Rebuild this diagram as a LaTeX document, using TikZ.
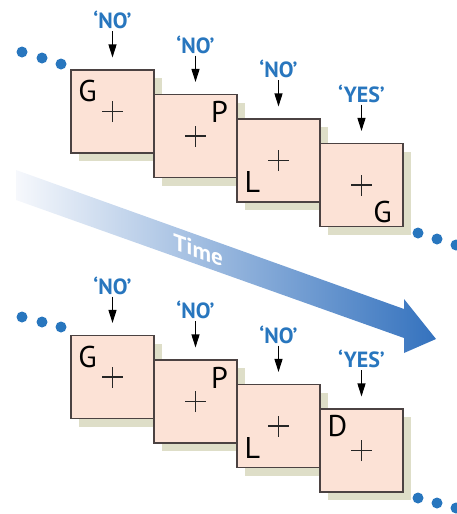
\documentclass[tikz,border=0pt]{standalone}
\usepackage{fontspec}
\setmainfont{PT Sans}
\usetikzlibrary{arrows.meta,shadows}
\definecolor{boxpink}{RGB}{252,226,214}
\definecolor{boxedge}{RGB}{75,66,66}
\definecolor{oliveshadow}{RGB}{222,222,200}
\definecolor{askblue}{RGB}{40,118,190}
\definecolor{timeblue}{RGB}{52,114,190}
\definecolor{timepale}{RGB}{246,248,252}
% cross in the middle of a cell
\newcommand{\crossin}[1]{\draw[crossline] ([xshift=-10.5pt]#1.center) -- ([xshift=10.5pt]#1.center)
    ([yshift=-10.5pt]#1.center) -- ([yshift=10.5pt]#1.center);}

\begin{document}
\begin{tikzpicture}[x=1pt,y=-1pt,
        cell/.style={draw=boxedge, line width=1.1pt, fill=boxpink, minimum size=83pt, inner sep=0pt,
            drop shadow={shadow xshift=8pt, shadow yshift=-8pt, fill=oliveshadow, opacity=1}},
        crossline/.style={line width=1.9pt, black!85},
        ask/.style={text=askblue, font=\bfseries\fontsize{22}{22}\selectfont, inner sep=2pt},
        probe/.style={-{Triangle[length=13pt,width=8pt]}, line width=1.1pt, shorten >=12pt},
        letter/.style={font=\fontsize{30}{30}\selectfont, inner sep=0pt},
        dot/.style={circle, fill=askblue, minimum size=11pt, inner sep=0pt}]
    \useasboundingbox (0,0) rectangle (457,514);

    % time arrow
    \shade[left color=timepale, right color=timeblue]
        (16,170) -- (404,309) -- (404,299) -- (436,339) -- (404,353) -- (404,338) -- (16,200) -- cycle;
    \node[text=white, font=\bfseries\fontsize{23}{23}\selectfont, yslant=-0.357] (time) at (198,250) {Time};

    % top row
    \node[dot] (td1) at (22,52) {};
    \node[dot] (td2) at (42,58) {};
    \node[dot] (td3) at (61,64) {};
    \node[dot] (td4) at (418,233) {};
    \node[dot] (td5) at (437,239) {};
    \node[dot] (td6) at (456,245) {};

    \node[cell] (t1) at (112.5,111.5) {};
    \crossin{t1}
    \node[cell] (t2) at (195.5,136) {};
    \crossin{t2}
    \node[cell] (t3) at (278.5,160.5) {};
    \crossin{t3}
    \node[cell] (t4) at (361.5,185) {};
    \crossin{t4}

    \node[letter] (t1g) at ([shift={(17,22)}]t1.north west) {G};
    \node[letter] (t2p) at ([shift={(66,18)}]t2.north west) {P};
    \node[letter] (t3l) at ([shift={(16,64)}]t3.north west) {L};
    \node[letter] (t4g) at ([shift={(63,69)}]t4.north west) {G};

    \node[ask] (qt1) at (112.5,20) {‘NO’};
    \node[ask] (qt2) at (195.5,44.5) {‘NO’};
    \node[ask] (qt3) at (278.5,69) {‘NO’};
    \node[ask] (qt4) at (361.5,93.5) {‘YES’};

    \draw[probe] (qt1) -- (t1);
    \draw[probe] (qt2) -- (t2);
    \draw[probe] (qt3) -- (t3);
    \draw[probe] (qt4) -- (t4);

    % bottom row
    \node[dot] (bd1) at (22,317) {};
    \node[dot] (bd2) at (42,322) {};
    \node[dot] (bd3) at (61,327) {};
    \node[dot] (bd4) at (418,498) {};
    \node[dot] (bd5) at (437,503) {};
    \node[dot] (bd6) at (456,508) {};

    \node[cell] (b1) at (112.5,377) {};
    \crossin{b1}
    \node[cell] (b2) at (195.5,401.5) {};
    \crossin{b2}
    \node[cell] (b3) at (278.5,426) {};
    \crossin{b3}
    \node[cell] (b4) at (361.5,450.5) {};
    \crossin{b4}

    \node[letter] (b1g) at ([shift={(17,22)}]b1.north west) {G};
    \node[letter] (b2p) at ([shift={(66,18)}]b2.north west) {P};
    \node[letter] (b3l) at ([shift={(16,64)}]b3.north west) {L};
    \node[letter] (b4d) at ([shift={(18,18)}]b4.north west) {D};

    \node[ask] (qb1) at (112.5,285.5) {‘NO’};
    \node[ask] (qb2) at (195.5,310) {‘NO’};
    \node[ask] (qb3) at (278.5,334.5) {‘NO’};
    \node[ask] (qb4) at (361.5,359) {‘YES’};

    \draw[probe] (qb1) -- (b1);
    \draw[probe] (qb2) -- (b2);
    \draw[probe] (qb3) -- (b3);
    \draw[probe] (qb4) -- (b4);
\end{tikzpicture}
\end{document}
